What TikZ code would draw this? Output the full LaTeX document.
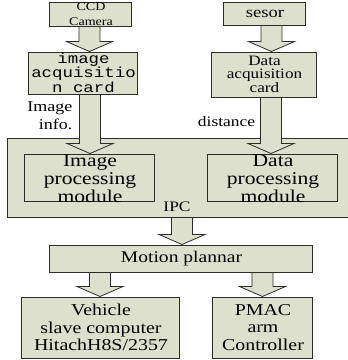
\documentclass[tikz,border=0pt]{standalone}
\usepackage{fontspec}
\setmainfont{Liberation Serif}[FakeStretch=1.2]
\newfontfamily\monof{Liberation Mono}[FakeStretch=1.2]
\usetikzlibrary{calc}
\pgfdeclarelayer{bg}
\pgfdeclarelayer{arr}
\pgfsetlayers{bg,arr,main}
\definecolor{boxfill}{RGB}{221,224,204}
\definecolor{boxline}{RGB}{45,45,45}
\tikzset{
  blk/.style={draw=boxline, fill=boxfill, line width=1pt, inner sep=0pt},
  fat/.style={draw=boxline, fill=boxfill, line width=0.8pt, line join=miter},
  lbl/.style={inner sep=0pt, align=center, text=black},
}
% #1 = x of arrow axis (px), #2 = node it leaves, #3 = node it points at
\newcommand\fatarrow[3]{%
  \draw[fat] let \p1=(#2.south), \p2=(#3.north) in
    (#1pt-10.5pt,\y1-0.6pt) -- (#1pt-10.5pt,\y2+10pt) -- (#1pt-23pt,\y2+10pt)
    -- (#1pt,\y2) -- (#1pt+23pt,\y2+10pt) -- (#1pt+10.5pt,\y2+10pt)
    -- (#1pt+10.5pt,\y1-0.6pt);
}
\begin{document}
\begin{tikzpicture}[x=1pt,y=-1pt]
\useasboundingbox (0,0) rectangle (348,360);
% IPC container (background layer)
\begin{pgfonlayer}{bg}
\node[blk, minimum width=344pt, minimum height=79pt] (ipc) at (180,177.5) {};
\end{pgfonlayer}
% boxes
\node[blk, minimum width=82pt, minimum height=24pt] (ccd) at (91,14) {};
\node[blk, minimum width=82pt, minimum height=23pt] (sesor) at (265,13.5) {};
\node[blk, minimum width=109pt, minimum height=42pt] (acq) at (83.5,73) {};
\node[blk, minimum width=105pt, minimum height=45pt] (dacq) at (264.5,74.5) {};
\node[blk, minimum width=130pt, minimum height=47pt] (imgp) at (90,177.5) {};
\node[blk, minimum width=130pt, minimum height=47pt] (datp) at (273,177.5) {};
\node[blk, minimum width=263pt, minimum height=27pt] (motion) at (181.5,258.5) {};
\node[blk, minimum width=158pt, minimum height=61pt] (veh) at (101,327.5) {};
\node[blk, minimum width=100pt, minimum height=61pt] (pmac) at (263,327.5) {};
% block arrows (between background and boxes)
\begin{pgfonlayer}{arr}
\fatarrow{89.5}{ccd}{acq}
\fatarrow{271.5}{sesor}{dacq}
\fatarrow{90}{acq}{imgp}
\fatarrow{271}{dacq}{datp}
\fatarrow{182}{ipc}{motion}
\fatarrow{100}{motion}{veh}
\fatarrow{262.5}{motion}{pmac}
\end{pgfonlayer}
% labels
\node[lbl, font=\fontsize{11.7}{15}\selectfont] (tccd) at (91,14.5) {CCD\\Camera};
\node[lbl, font=\fontsize{15.5}{17}\selectfont] (tsesor) at (265,13.5) {sesor};
\node[lbl, font=\monof\fontsize{14.5}{14.5}\selectfont] (tacq) at (83.5,72.5) {image\\acquisitio\\n card};
\node[lbl, font=\fontsize{14.3}{13.6}\selectfont] (tdacq) at (264.5,74) {Data\\acquisition\\card};
\node[lbl, align=right, anchor=east, font=\fontsize{15}{18}\selectfont] (tinfo) at (72.5,116) {Image\\info.};
\node[lbl, font=\fontsize{14.5}{17}\selectfont] (tdist) at (226.5,122) {distance};
\node[lbl, font=\fontsize{18}{18}\selectfont] (timgp) at (90,179) {Image\\processing\\module};
\node[lbl, font=\fontsize{18}{18}\selectfont] (tdatp) at (273,179) {Data\\processing\\module};
\node[lbl, font=\fontsize{14.5}{17}\selectfont] (tipc) at (177,207) {IPC};
\node[lbl, font=\fontsize{16.3}{17}\selectfont] (tmotion) at (181.5,258.5) {Motion plannar};
\node[lbl, font=\fontsize{16.6}{17.5}\selectfont] (tveh) at (101,327.5) {Vehicle\\slave computer\\HitachH8S/2357};
\node[lbl, font=\fontsize{16.6}{17.5}\selectfont] (tpmac) at (263,327.5) {PMAC\\arm\\Controller};
\end{tikzpicture}
\end{document}
